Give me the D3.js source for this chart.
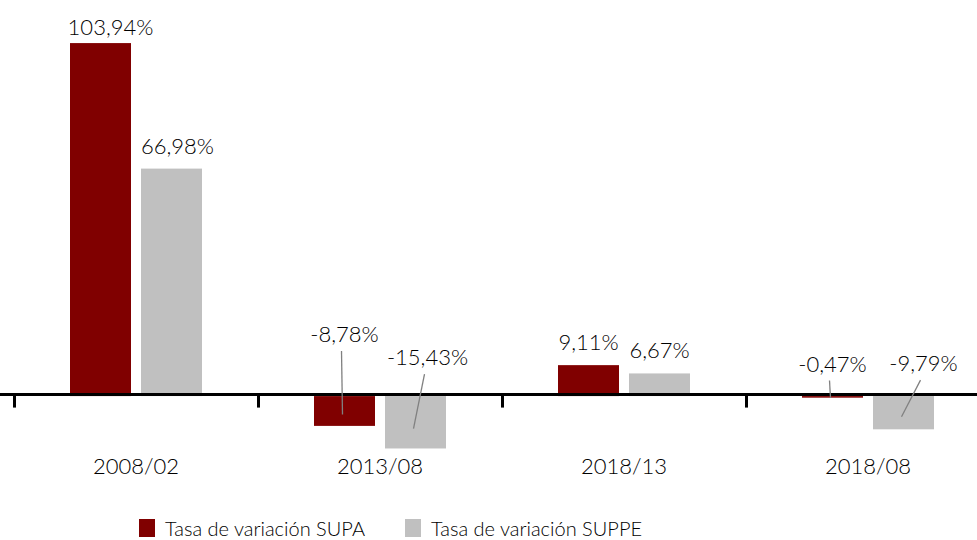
<!DOCTYPE html>
<html>
<head>
<meta charset="utf-8">
<script src="https://d3js.org/d3.v7.min.js"></script>
<style>
  body { margin: 0; background: #fff; }
  text { font-family: Lato, "Noto Sans", sans-serif; font-weight: 300; fill: #000; }
</style>
</head>
<body>
<svg id="chart" width="977" height="540"></svg>
<script>
  // data
  const categories = ["2008/02", "2013/08", "2018/13", "2018/08"];
  const seriesNames = ["Tasa de variación SUPA", "Tasa de variación SUPPE"];
  const supa = [103.94, -8.78, 9.11, -0.47];
  const suppe = [66.98, -15.43, 6.67, -9.79];
  const colors = ["#800000", "#c0c0c0"];

  // hand-placed labels (dx from bar centre; rise above the axis for negative bars)
  const labelDx = [[10, 0, 0, 0], [6, 12, 0, 20]];
  const negLabelRise = [[0, 54, 0, 24.5], [0, 31, 0, 25]];

  const svg = d3.select("#chart");
  const values = [supa, suppe];

  const x0 = d3.scaleBand().domain(categories).range([14, 990]).padding(0);
  const x1 = d3.scaleBand().domain([0, 1]).range([56, 188]).paddingInner(10 / 71);
  const y = d3.scaleLinear().domain([-20, 110]).range([464, 22.5]);
  const fmt = v => d3.format(".2f")(v).replace(".", ",").replace("\u2212", "-") + "%";

  const rows = [];
  categories.forEach((c, i) => {
    values.forEach((vals, s) => rows.push({ c, i, s, v: vals[i] }));
  });

  // bars
  svg.append("g").selectAll("rect")
    .data(rows)
    .join("rect")
    .attr("x", d => x0(d.c) + x1(d.s))
    .attr("width", x1.bandwidth())
    .attr("y", d => y(Math.max(0, d.v)))
    .attr("height", d => Math.abs(y(d.v) - y(0)))
    .attr("fill", d => colors[d.s]);

  // axis with ticks at the band edges, line sits just above zero
  const edge = d3.scaleLinear().domain([0, categories.length]).range(x0.range());
  svg.append("g")
    .attr("transform", `translate(0,${y(0) - 1.5})`)
    .call(d3.axisBottom(edge).ticks(categories.length).tickFormat("").tickSize(13).tickSizeOuter(0))
    .call(g => g.select(".domain").attr("stroke-width", 3).attr("d", `M0,0H977`))
    .call(g => g.selectAll(".tick line").attr("stroke-width", 3).attr("y1", -1));

  // category labels
  svg.append("g")
    .attr("transform", `translate(0,${y(0)})`)
    .call(d3.axisBottom(x0).tickSize(0).tickPadding(62))
    .call(g => g.select(".domain").remove())
    .call(g => g.selectAll("text").attr("font-size", 22).attr("font-family", "Lato").attr("font-weight", 300).attr("fill", "#000"));

  // value labels
  const labelX = d => x0(d.c) + x1(d.s) + x1.bandwidth() / 2 + labelDx[d.s][d.i];
  const labelY = d => d.v >= 0 ? Math.max(y(d.v) - 15, 35) : y(0) - negLabelRise[d.s][d.i];

  svg.append("g").selectAll("line")
    .data(rows.filter(d => d.v < 0))
    .join("line")
    .attr("x1", d => labelX(d) - 3)
    .attr("y1", d => labelY(d) + 9)
    .attr("x2", d => x0(d.c) + x1(d.s) + x1.bandwidth() / 2 - 2)
    .attr("y2", d => Math.max(y(0) + 2, y(0) + 0.62 * (y(d.v) - y(0))))
    .attr("stroke", "#808080")
    .attr("stroke-width", 1.3);

  svg.append("g").selectAll("text")
    .data(rows)
    .join("text")
    .attr("x", labelX)
    .attr("y", labelY)
    .attr("text-anchor", "middle")
    .attr("font-size", 22)
    .text(d => fmt(d.v));

  // legend
  const legend = svg.append("g").selectAll("g")
    .data(seriesNames)
    .join("g")
    .attr("transform", (d, i) => `translate(${[139, 405][i]},519)`);
  legend.append("rect").attr("width", 16).attr("height", 18).attr("fill", (d, i) => colors[i]);
  legend.append("text").attr("x", 26).attr("y", 17).attr("font-size", 20).text(d => d);
</script>
</body>
</html>
